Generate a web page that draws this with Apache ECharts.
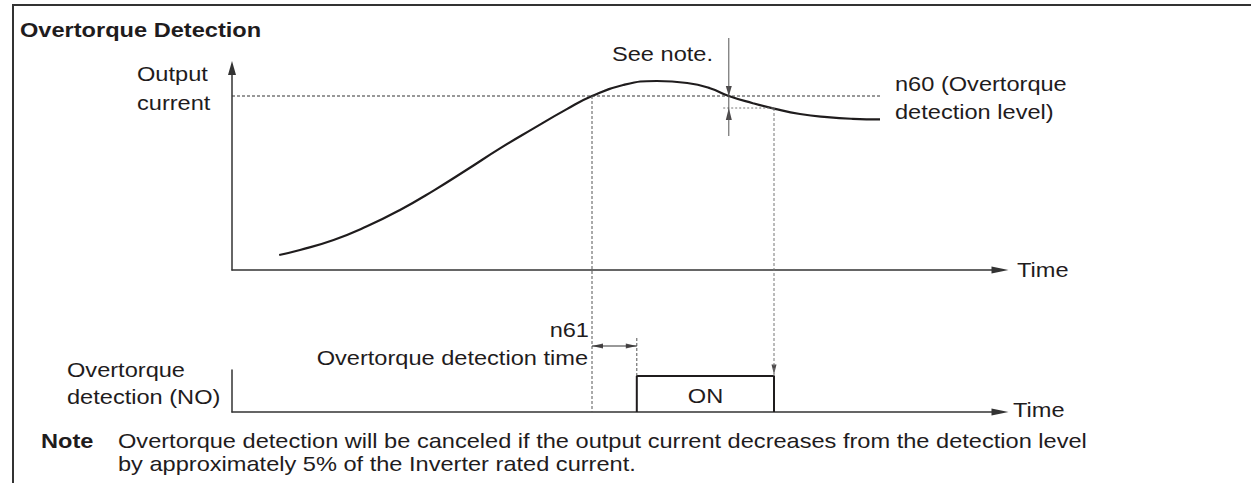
<!DOCTYPE html>
<html>
<head>
<meta charset="utf-8">
<script src="https://cdn.jsdelivr.net/npm/echarts@6/dist/echarts.min.js"></script>
<style>
html,body{margin:0;padding:0;background:#ffffff;}
#chart{width:1251px;height:483px;}
</style>
</head>
<body>
<div id="chart"></div>
<script>
// ---------------- data ----------------
const timeMax = 96;                 // extent of both time axes (arbitrary units)
const curveTime    = [5.9, 8.5, 12.7, 16.8, 21, 25.2, 29.3, 33.5, 37.7, 41.8, 45, 48.9, 53.1, 56.9, 59.75, 62.1, 65.1, 67.75, 71, 74.4, 77.6, 81];
const curveCurrent = [7.5, 10, 15, 21.7, 30, 39.7, 50, 60.8, 70.8, 80.3, 87, 92.5, 94.5, 93.5, 90.9, 87, 83.4, 80.7, 78, 76.4, 75.6, 75.35];
const currentMax = 101;             // top of the output-current axis
const detectionLevel = 87;          // n60 (Overtorque detection level)
const releaseLevel = 81;            // n60 minus approx. 5 % of rated current
const levelLineEnd = 81.25;         // end of the n60 dotted line
const releaseLineStart = 61.4;      // start of the release-level dotted line
const tReach = 45;                  // current reaches n60
const tOn = 50.6;                   // detection turns ON (after n61)
const tBelow = 62.1;                // current falls back to n60
const tOff = 67.75;                 // current below release level -> OFF
const signalTime  = [tOn, tOn, tOff, tOff];
const signalLevel = [0, 18, 18, 0];
const onLevel = 18;
const signalMax = 21;
// overlay coordinate system spanning both panels (0 = lower time axis)
const overlayMax = 191;
const upperBase = 71;               // upper time axis in overlay units
const noteLineTop = 187, noteLineBottom = 138;
const n61ArrowLevel = 33, n61TickTop = 37;

// ---------------- helpers ----------------
const INK = '#1f1c1d';
const FONT = '"Liberation Sans", Arial, Helvetica, sans-serif';
const SX = 1.18; // horizontal stretch of the original lettering
function zip(a, b) { return a.map((v, i) => [v, b[i]]); }
function seg(name, pts, grid, color, width, type) {
  return {
    name: name, type: 'line', xAxisIndex: grid, yAxisIndex: grid,
    data: pts, symbol: 'none', silent: true, animation: false, clip: false,
    lineStyle: { color: color, width: width, type: type || 'solid' }
  };
}
function head(t, v, dir, w, l) {
  const rot = { up: 0, down: 180, left: 90, right: -90 }[dir];
  const off = { up: [0, l / 2], down: [0, -l / 2], left: [l / 2, 0], right: [-l / 2, 0] }[dir];
  return { value: [t, v], symbolRotate: rot, symbolOffset: off, symbolSize: [w, l] };
}
function txt(s, x, y, opt) {
  opt = opt || {};
  const align = opt.align || 'left';
  return {
    type: 'text', x: x, y: y, scaleX: SX, silent: true,
    style: {
      text: s, x: 0, y: 0, fill: INK,
      fontSize: opt.size || 20, fontFamily: FONT, fontWeight: opt.bold ? 'bold' : 'normal',
      align: align, textAlign: align, verticalAlign: 'middle', textVerticalAlign: 'middle'
    }
  };
}
function axis(grid, max, show, arrowSize) {
  return {
    type: 'value', gridIndex: grid, min: 0, max: max,
    axisLine: show ? {
      show: true, onZero: false,
      symbol: arrowSize ? ['none', 'triangle'] : ['none', 'none'],
      symbolSize: arrowSize || [8, 14],
      lineStyle: { color: '#333', width: 1.5 }
    } : { show: false },
    axisTick: { show: false }, axisLabel: { show: false }, splitLine: { show: false }
  };
}

// ---------------- chart ----------------
const chart = echarts.init(document.getElementById('chart'), null, { renderer: 'svg' });
chart.setOption({
  animation: false,
  backgroundColor: '#ffffff',
  grid: [
    { left: 232, top: 68, width: 768, height: 202 },   // output current panel
    { left: 232, top: 370, width: 768, height: 42 },   // detection output panel
    { left: 232, top: 30, width: 768, height: 382 }    // overlay spanning both
  ],
  xAxis: [
    axis(0, timeMax, true, [7, 17]),
    axis(1, timeMax, true, [7, 17]),
    axis(2, timeMax, false)
  ],
  yAxis: [
    axis(0, currentMax, true, [8, 14]),
    axis(1, signalMax, true, null),
    axis(2, overlayMax, false)
  ],
  series: [
    // output current curve
    Object.assign(seg('Output current', zip(curveTime, curveCurrent), 0, INK, 2.2), { smooth: 0.5 }),
    // n60 detection level
    seg('n60', [[0, detectionLevel], [levelLineEnd, detectionLevel]], 0, '#333', 1, [3, 2]),
    // release level (approx. 5 % below)
    seg('release', [[releaseLineStart, releaseLevel], [tOff, releaseLevel]], 0, '#777', 1, [2, 2]),
    // detection output pulse
    seg('Overtorque detection (NO)', zip(signalTime, signalLevel), 1, INK, 2),
    // dotted guides through both panels
    seg('reach', [[tReach, upperBase + detectionLevel], [tReach, 0]], 2, '#555', 1, [3, 2]),
    seg('off', [[tOff, upperBase + releaseLevel], [tOff, onLevel]], 2, '#777', 1, [3, 2]),
    seg('on', [[tOn, n61TickTop], [tOn, onLevel]], 2, '#555', 1, [3, 2]),
    // n61 dimension line
    seg('n61', [[tReach, n61ArrowLevel], [tOn, n61ArrowLevel]], 2, '#333', 1),
    // "See note." dimension line
    seg('note', [[tBelow, noteLineTop], [tBelow, noteLineBottom]], 2, '#555', 1),
    // arrow heads
    {
      type: 'scatter', xAxisIndex: 2, yAxisIndex: 2, symbol: 'triangle', silent: true,
      animation: false, clip: false, itemStyle: { color: INK },
      data: [
        head(tReach, n61ArrowLevel, 'left', 5, 11),
        head(tOn, n61ArrowLevel, 'right', 5, 11),
        head(tOff, onLevel + 0.8, 'down', 5, 10),
        head(tBelow, upperBase + detectionLevel, 'down', 6, 10),
        head(tBelow, upperBase + releaseLevel, 'up', 6, 12)
      ]
    }
  ],
  graphic: [
    { type: 'polyline', silent: true, shape: { points: [[13, 483], [13, 5], [1251, 5]] },
      style: { stroke: '#333', lineWidth: 2, fill: null } },
    txt('Overtorque Detection', 20, 30.5, { bold: true }),
    txt('Output', 137, 74.5),
    txt('current', 137, 103.5),
    txt('See note.', 612, 54),
    txt('n60 (Overtorque', 895, 84),
    txt('detection level)', 895, 112),
    txt('Time', 1017, 270),
    txt('n61', 589, 330, { align: 'right' }),
    txt('Overtorque detection time', 588, 358.5, { align: 'right' }),
    txt('Overtorque', 67, 370.5),
    txt('detection (NO)', 67, 397.5),
    txt('ON', 705.5, 396, { align: 'center' }),
    txt('Time', 1013, 410.5),
    txt('Note', 41, 441.5, { bold: true }),
    txt('Overtorque detection will be canceled if the output current decreases from the detection level', 118, 441.5),
    txt('by approximately 5% of the Inverter rated current.', 118, 464)
  ]
});
</script>
</body>
</html>
